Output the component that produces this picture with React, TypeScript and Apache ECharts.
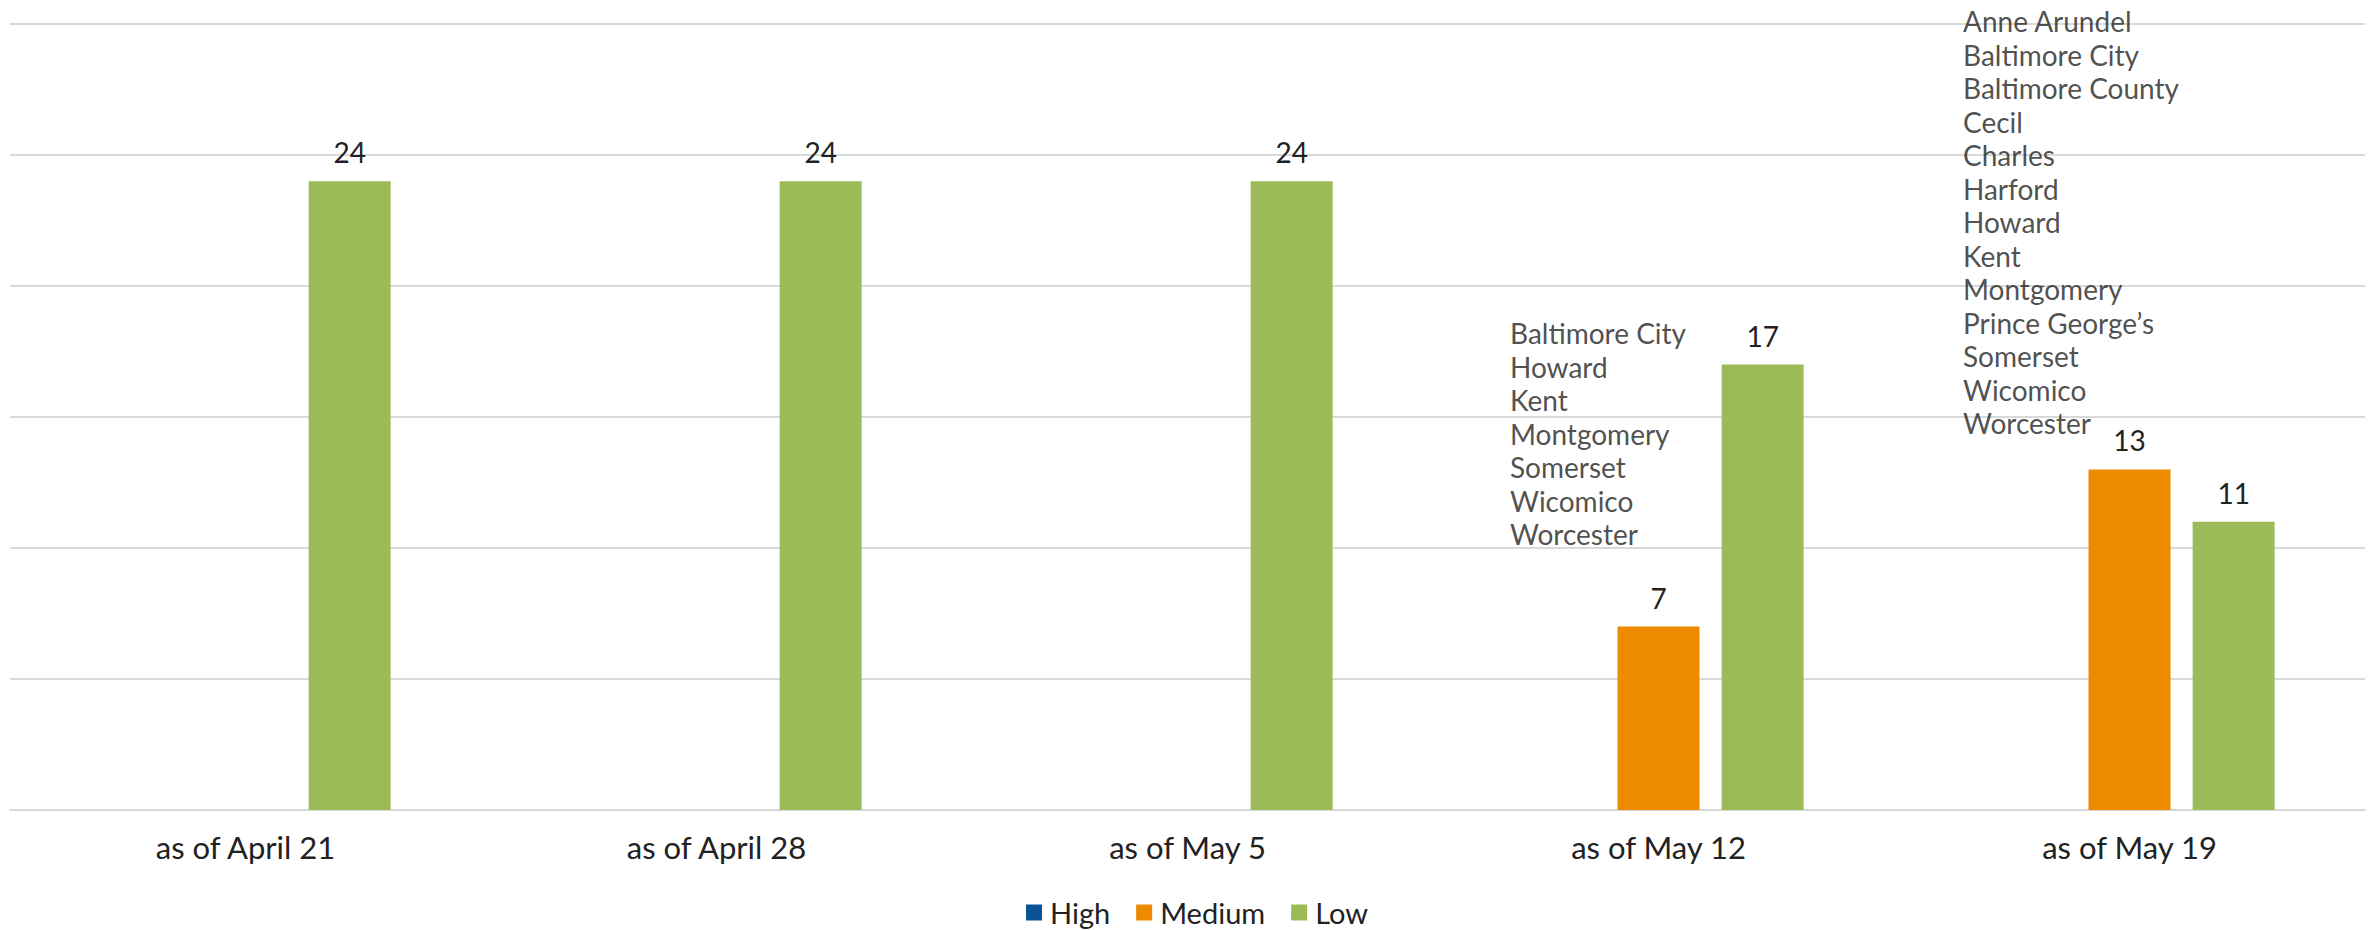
import React, { useEffect, useRef } from "react";
import * as echarts from "echarts";

const categories = ["as of April 21", "as of April 28", "as of May 5", "as of May 12", "as of May 19"];
const highValues = [0, 0, 0, 0, 0];
const mediumValues = [0, 0, 0, 7, 13];
const lowValues = [24, 24, 24, 17, 11];
const seriesNames = ["High", "Medium", "Low"];

const countiesMay12 = ["Baltimore City", "Howard", "Kent", "Montgomery", "Somerset", "Wicomico", "Worcester"];
const countiesMay19 = [
  "Anne Arundel",
  "Baltimore City",
  "Baltimore County",
  "Cecil",
  "Charles",
  "Harford",
  "Howard",
  "Kent",
  "Montgomery",
  "Prince George\u2019s",
  "Somerset",
  "Wicomico",
  "Worcester",
];

// annotation placement (label offsets relative to the Medium bar top)
const notes = [
  { index: 3, lines: countiesMay12, offset: [-148.5, -75.5] },
  { index: 4, lines: countiesMay19, offset: [-166.5, -29.5] },
];

const FONT = "Lato, 'Open Sans', sans-serif";
const TEXT = "#222222";

export default function App() {
  const ref = useRef<HTMLDivElement>(null);
  useEffect(() => {
    if (!ref.current) return;
    const chart = echarts.init(ref.current, undefined, { renderer: "svg" });
    const valueLabel = {
      show: true,
      position: "top",
      distance: 12,
      fontFamily: FONT,
      fontSize: 28,
      lineHeight: 34,
      color: TEXT,
      formatter: (p: any) => (p.value ? String(p.value) : ""),
    };
    const colors = ["#0B5394", "#EE8A00", "#9BBB59"];
    const values = [highValues, mediumValues, lowValues];
    chart.setOption({
      animation: false,
      backgroundColor: "#ffffff",
      textStyle: { fontFamily: FONT },
      grid: { left: 10, right: 4, top: 24, bottom: 120, containLabel: false },
      legend: {
        data: seriesNames,
        left: 1021,
        top: 890,
        icon: "rect",
        itemWidth: 16,
        itemHeight: 16,
        itemGap: 26,
        textStyle: { fontFamily: FONT, fontSize: 29, lineHeight: 35, color: TEXT, padding: [0, 0, 0, 3] },
      },
      xAxis: {
        type: "category",
        data: categories,
        axisLine: { show: true, lineStyle: { color: "#D9D9D9", width: 2 } },
        axisTick: { show: false },
        axisLabel: { fontFamily: FONT, fontSize: 31, lineHeight: 37, color: TEXT, margin: 18 },
      },
      yAxis: {
        type: "value",
        min: 0,
        max: 30,
        interval: 5,
        axisLabel: { show: false },
        axisLine: { show: false },
        axisTick: { show: false },
        splitLine: { lineStyle: { color: "#D9D9D9", width: 2 } },
      },
      series: [
        ...seriesNames.map((name, i) => ({
          name,
          type: "bar",
          data: values[i],
          barWidth: 82,
          barGap: "27%",
          itemStyle: { color: colors[i] },
          label: valueLabel,
        })),
        {
          name: "notes",
          type: "scatter",
          symbolSize: 0,
          silent: true,
          z: 5,
          data: notes.map((n) => ({
            value: [n.index, mediumValues[n.index]],
            label: {
              show: true,
              position: "inside",
              align: "left",
              verticalAlign: "bottom",
              offset: n.offset,
              formatter: n.lines.join("\n"),
              fontFamily: FONT,
              fontSize: 28,
              lineHeight: 33.5,
              color: TEXT,
            },
          })),
        },
      ],
    });
    return () => chart.dispose();
  }, []);
  return <div ref={ref} style={{ position: "fixed", left: 0, top: 0, width: 2369, height: 930 }} />;
}
